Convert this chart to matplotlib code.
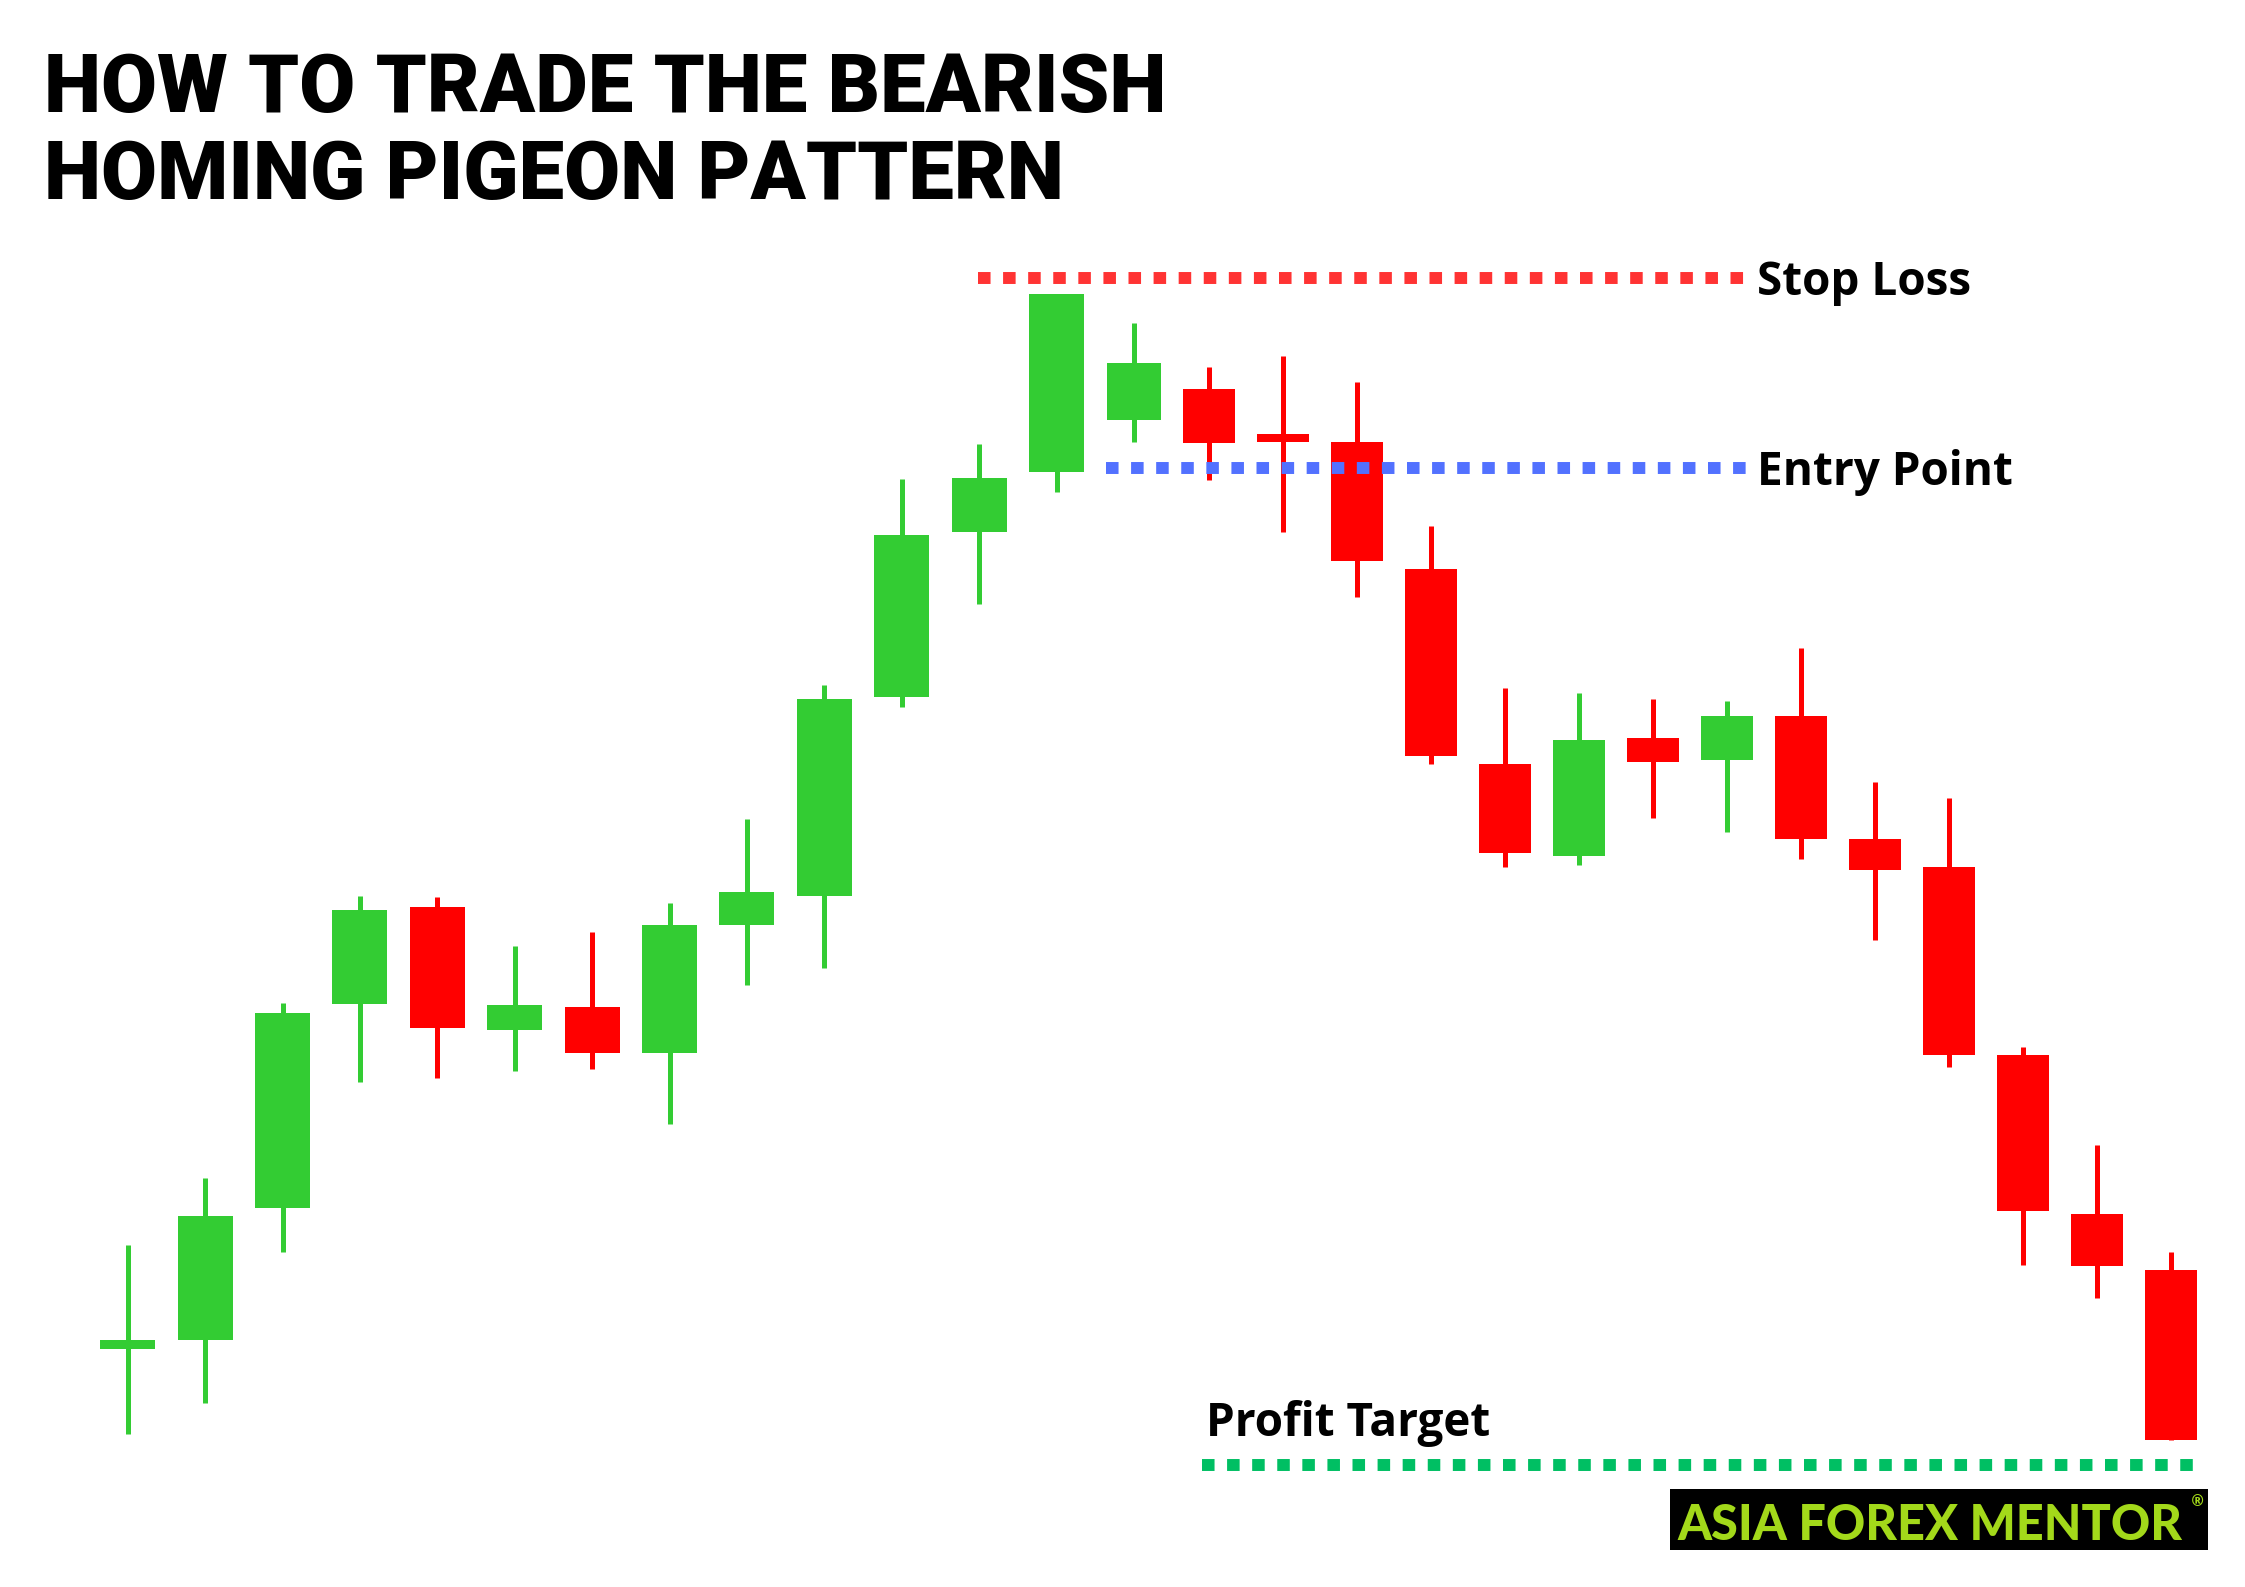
import numpy as np
import matplotlib.pyplot as plt
from matplotlib.patches import Rectangle

# candle data, arbitrary price units
opens = [15.1, 16.0, 29.2, 49.6, 59.3, 47.0, 49.3, 44.7, 57.5, 60.4,
         80.3, 96.8, 102.8, 108.0, 111.1, 106.6, 105.8, 93.1, 73.6, 64.4,
         76.2, 74.0, 78.35, 66.1, 63.3, 44.5, 28.65, 23.0]
highs = [25.5, 32.2, 49.7, 60.4, 60.3, 55.4, 56.8, 59.7, 68.1, 81.5,
         102.1, 105.6, 120.6, 117.7, 113.3, 114.4, 111.75, 97.4, 81.2, 80.7,
         80.1, 79.9, 85.2, 71.8, 70.2, 45.3, 35.5, 24.8]
lows = [6.6, 9.7, 24.8, 41.8, 42.2, 42.9, 43.1, 37.6, 51.5, 53.2,
        79.3, 89.6, 100.8, 105.8, 102.0, 96.8, 90.3, 73.6, 63.3, 63.5,
        68.2, 66.8, 64.1, 56.0, 43.3, 23.5, 20.25, 6.0]
closes = [16.0, 28.45, 48.7, 59.0, 47.2, 49.5, 44.7, 57.5, 60.8, 80.1,
          96.5, 102.2, 120.6, 113.7, 105.7, 105.8, 93.9, 74.4, 64.7, 76.0,
          73.8, 78.4, 66.1, 63.0, 44.5, 28.9, 23.4, 6.0]

stop_loss = 122.2
entry_point = 103.2
profit_target = 3.5

title_lines = ["HOW TO TRADE THE BEARISH", "HOMING PIGEON PATTERN"]
level_labels = ["Stop Loss", "Entry Point", "Profit Target"]
brand = "ASIA FOREX MENTOR"

W, H = 2245, 1587
fig = plt.figure(figsize=(W / 100, H / 100), dpi=100)
fig.patch.set_facecolor('white')

# the second half of the reference chart is drawn slightly tighter
brk, k = 13.3, 0.956


def fwd(x):
    x = np.asarray(x, dtype=float)
    return np.where(x <= brk, x, brk + (x - brk) * k)


def inv(x):
    x = np.asarray(x, dtype=float)
    return np.where(x <= brk, x, brk + (x - brk) / k)


ax = fig.add_axes([0, 0, 1, 1])
ax.set_xscale('function', functions=(fwd, inv))
ax.set_xlim(-1.65, 28.0)
ax.set_ylim(-8.7, 150)
ax.axis('off')

o = np.array(opens)
c = np.array(closes)
idx = np.arange(len(o))
cols = np.where(c >= o, '#33CC33', '#FF0000')

ax.vlines(idx, lows, highs, colors=cols, linewidth=3.6, zorder=2)
ax.bar(idx, np.abs(c - o), bottom=np.minimum(o, c), width=0.71,
       color=cols, linewidth=0, zorder=3)

dots = (0, (1.05, 1.05))
ax.plot([10.99, 21.3], [stop_loss] * 2, color='#FF3333', lw=8.6,
        linestyle=dots, dash_capstyle='butt', zorder=1)
ax.plot([12.64, 21.3], [entry_point] * 2, color='#5271FF', lw=8.6,
        linestyle=dots, dash_capstyle='butt', zorder=4)
ax.plot([13.91, 27.43], [profit_target] * 2, color='#00BF63', lw=8.6,
        linestyle=dots, dash_capstyle='butt', zorder=1)


def fx(px):
    return px / W


def fy(py):
    return 1 - py / H


lab = dict(fontsize=33, weight='bold', family='Open Sans', va='baseline', color='black')
fig.text(fx(1757), fy(295), level_labels[0], **lab)
fig.text(fx(1757), fy(485), level_labels[1], **lab)
fig.text(fx(1206), fy(1436), level_labels[2], **lab)

# title
for line, base in zip(title_lines, [112, 199]):
    fig.text(fx(44), fy(base), line, fontsize=58.5, weight='black',
             family='Roboto', va='baseline')

# logo
fig.patches.append(Rectangle((fx(1670), fy(1550)), (2208 - 1670) / W, 61 / H,
                             transform=fig.transFigure, facecolor='black',
                             edgecolor='none', zorder=5))
fig.text(fx(1677), fy(1540), brand, fontsize=35, weight='black', family='Lato',
         color='#A3D91A', va='baseline', zorder=6)
fig.text(fx(2190), fy(1494), '®', fontsize=11, weight='bold', family='DejaVu Sans',
         color='#A3D91A', va='top', zorder=6)

fig.savefig('out.png', dpi=100)
